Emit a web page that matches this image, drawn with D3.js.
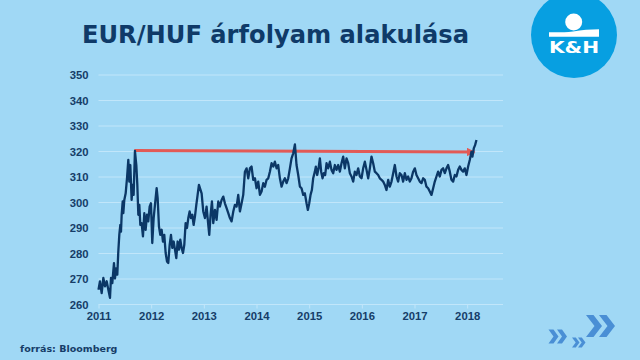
<!DOCTYPE html>
<html>
<head>
    <meta charset="utf-8" />
    <title>EUR/HUF árfolyam alakulása</title>
    <script src="https://d3js.org/d3.v7.min.js"></script>
    <style>
        html, body {
            margin: 0;
            padding: 0;
            background-color: #a0d8f5;
        }
        svg {
            display: block;
            font-family: "DejaVu Sans", Verdana, sans-serif;
        }
        .grid line {
            stroke: #c1e6fa;
            stroke-width: 1;
        }
        .axis text {
            fill: #163d68;
            font-weight: bold;
            font-size: 11.3px;
        }
        .axis path {
            display: none;
        }
        .axis--x .tick line {
            stroke: #c1e6fa;
        }
        .axis--y .tick line {
            display: none;
        }
    </style>
</head>
<body>
<svg id="chart" width="640" height="360"></svg>
<script>

// decimal years and EUR/HUF rates
var years = [
    2011.000, 2011.028, 2011.060, 2011.092, 2011.123, 2011.155, 2011.187, 2011.218, 2011.237, 2011.262,
    2011.294, 2011.313, 2011.332, 2011.357, 2011.376, 2011.395, 2011.414, 2011.427, 2011.440, 2011.459,
    2011.471, 2011.490, 2011.516, 2011.541, 2011.566, 2011.585, 2011.604, 2011.629, 2011.648, 2011.667,
    2011.692, 2011.718, 2011.737, 2011.756, 2011.775, 2011.794, 2011.819, 2011.844, 2011.870, 2011.895,
    2011.920, 2011.945, 2011.971, 2011.996, 2012.021, 2012.047, 2012.072, 2012.104, 2012.123, 2012.148,
    2012.173, 2012.199, 2012.224, 2012.249, 2012.275, 2012.300, 2012.325, 2012.351, 2012.376, 2012.401,
    2012.427, 2012.452, 2012.477, 2012.502, 2012.528, 2012.553, 2012.578, 2012.604, 2012.629, 2012.654,
    2012.680, 2012.705, 2012.730, 2012.755, 2012.781, 2012.806, 2012.831, 2012.857, 2012.882, 2012.907,
    2012.958, 2012.989, 2013.021, 2013.052, 2013.084, 2013.103, 2013.128, 2013.154, 2013.179, 2013.211,
    2013.242, 2013.274, 2013.305, 2013.337, 2013.369, 2013.400, 2013.432, 2013.464, 2013.495, 2013.527,
    2013.559, 2013.590, 2013.622, 2013.653, 2013.685, 2013.717, 2013.748, 2013.780, 2013.812, 2013.843,
    2013.875, 2013.906, 2013.938, 2013.970, 2014.001, 2014.033, 2014.065, 2014.096, 2014.128, 2014.159,
    2014.191, 2014.223, 2014.254, 2014.286, 2014.318, 2014.349, 2014.381, 2014.412, 2014.444, 2014.476,
    2014.507, 2014.539, 2014.571, 2014.602, 2014.634, 2014.665, 2014.697, 2014.729, 2014.760, 2014.792,
    2014.824, 2014.855, 2014.887, 2014.918, 2014.950, 2014.975, 2015.001, 2015.026, 2015.051, 2015.076,
    2015.108, 2015.127, 2015.152, 2015.178, 2015.203, 2015.228, 2015.254, 2015.279, 2015.304, 2015.330,
    2015.361, 2015.393, 2015.424, 2015.456, 2015.488, 2015.519, 2015.551, 2015.583, 2015.614, 2015.646,
    2015.677, 2015.709, 2015.741, 2015.772, 2015.804, 2015.836, 2015.867, 2015.899, 2015.930, 2015.962,
    2015.994, 2016.025, 2016.057, 2016.089, 2016.120, 2016.152, 2016.183, 2016.215, 2016.247, 2016.278,
    2016.310, 2016.341, 2016.373, 2016.405, 2016.436, 2016.468, 2016.500, 2016.531, 2016.563, 2016.595,
    2016.626, 2016.658, 2016.689, 2016.721, 2016.753, 2016.784, 2016.816, 2016.848, 2016.879, 2016.911,
    2016.942, 2016.974, 2017.006, 2017.037, 2017.069, 2017.100, 2017.132, 2017.164, 2017.195, 2017.227,
    2017.259, 2017.290, 2017.322, 2017.354, 2017.385, 2017.417, 2017.448, 2017.480, 2017.512, 2017.543,
    2017.575, 2017.607, 2017.638, 2017.670, 2017.701, 2017.733, 2017.765, 2017.796, 2017.828, 2017.860,
    2017.891, 2017.923, 2017.954, 2017.986, 2018.018, 2018.049, 2018.081, 2018.100, 2018.125, 2018.150,
    2018.176
];
var rates = [
    265.6, 268.9, 264.3, 270.2, 266.9, 268.9, 265.6, 262.4, 270.2, 268.2,
    276.0, 270.0, 274.0, 271.5, 280.6, 287.1, 291.0, 288.4, 295.0, 300.2,
    295.6, 300.8, 303.4, 309.3, 316.5, 308.0, 314.5, 300.8, 306.7, 302.8,
    320.0, 314.5, 306.7, 295.0, 298.9, 291.0, 291.7, 286.5, 295.6, 289.1,
    295.0, 292.4, 298.2, 299.5, 283.9, 293.7, 298.9, 305.4, 301.5, 290.4,
    287.1, 289.1, 284.5, 287.1, 280.0, 276.7, 276.1, 283.2, 287.1, 282.0,
    284.5, 281.3, 278.0, 284.5, 281.3, 285.2, 282.0, 280.0, 283.2, 291.7,
    289.8, 293.7, 296.3, 293.7, 295.0, 291.0, 294.3, 298.9, 302.8, 306.7,
    303.4, 296.3, 293.7, 298.2, 291.0, 287.1, 295.0, 300.2, 291.7, 296.9,
    293.0, 300.2, 298.2, 300.8, 302.1, 299.5, 297.6, 295.6, 293.7, 292.4,
    296.3, 298.9, 298.2, 302.8, 296.3, 299.5, 302.8, 311.9, 313.2, 309.3,
    313.2, 313.9, 308.7, 309.3, 305.4, 308.0, 302.8, 304.1, 307.4, 306.0,
    308.7, 309.3, 311.9, 315.2, 313.9, 315.8, 313.2, 314.5, 309.3, 306.0,
    308.0, 309.3, 307.4, 309.3, 313.2, 317.1, 319.1, 322.6, 314.5, 310.6,
    306.0, 305.4, 302.8, 303.4, 299.5, 296.9, 299.5, 302.8, 304.7, 309.3,
    311.9, 313.9, 310.6, 313.2, 317.1, 311.9, 309.3, 311.3, 310.6, 315.2,
    313.2, 315.8, 312.6, 311.3, 314.5, 312.6, 314.5, 311.9, 315.2, 317.8,
    313.2, 317.1, 315.2, 311.3, 310.0, 308.0, 311.9, 310.6, 313.2, 310.0,
    309.3, 313.2, 315.8, 312.6, 309.3, 313.2, 317.8, 315.2, 311.9, 311.3,
    310.6, 309.3, 308.7, 308.0, 306.7, 304.7, 308.7, 306.0, 308.0, 311.3,
    314.5, 310.0, 308.0, 311.3, 310.6, 308.0, 311.3, 308.7, 310.0, 308.0,
    309.3, 311.9, 313.2, 310.6, 309.3, 308.0, 307.4, 309.3, 308.7, 306.0,
    305.4, 304.1, 302.8, 305.4, 308.0, 310.0, 311.9, 310.0, 312.6, 313.2,
    311.3, 313.2, 314.5, 311.9, 308.7, 308.0, 310.6, 310.0, 312.6, 313.9,
    312.6, 311.9, 313.2, 310.6, 313.9, 316.5, 319.7, 317.8, 321.0, 322.3,
    324.3
];

// red arrow: from the 2011 peak to the latest value
var arrowYears = [2011.68, 2018.14];
var arrowRates = [320.2, 319.6];

var xTicks = [2011, 2012, 2013, 2014, 2015, 2016, 2017, 2018];
var yTicks = [260, 270, 280, 290, 300, 310, 320, 330, 340, 350];

var svg = d3.select("#chart");

var x = d3.scaleLinear().domain([2011, 2018.68]).range([98.5, 503]),
    y = d3.scaleLinear().domain([260, 350]).range([304, 74.5]);

// horizontal gridlines
svg.append("g")
    .attr("class", "grid")
    .selectAll("line")
    .data(yTicks)
    .enter().append("line")
    .attr("x1", x.range()[0])
    .attr("x2", x.range()[1])
    .attr("y1", function(d) { return y(d) + 0.5; })
    .attr("y2", function(d) { return y(d) + 0.5; });

svg.append("g")
    .attr("class", "axis axis--y")
    .attr("transform", "translate(" + (x.range()[0] - 10) + ",0)")
    .call(d3.axisLeft(y).tickValues(yTicks).tickSize(0).tickPadding(0))
    .selectAll("text")
    .attr("dy", "0.36em");

svg.append("g")
    .attr("class", "axis axis--x")
    .attr("transform", "translate(0," + (y(260) + 0.5) + ")")
    .call(d3.axisBottom(x).tickValues(xTicks).tickFormat(d3.format("d")).tickSize(4).tickPadding(3));

// arrow marker
svg.append("defs").append("marker")
    .attr("id", "arrowhead")
    .attr("viewBox", "0 0 10 10")
    .attr("refX", 9)
    .attr("refY", 5)
    .attr("markerWidth", 3.2)
    .attr("markerHeight", 2.8)
    .attr("orient", "auto")
    .append("path")
    .attr("d", "M0,0 L10,5 L0,10 Z")
    .attr("fill", "#e25a56");

var arrowData = arrowYears.map(function(d, i) { return [d, arrowRates[i]]; });

svg.append("path")
    .datum(arrowData)
    .attr("fill", "none")
    .attr("stroke", "#e25a56")
    .attr("stroke-width", 3)
    .attr("marker-end", "url(#arrowhead)")
    .attr("d", d3.line()
        .x(function(d) { return x(d[0]); })
        .y(function(d) { return y(d[1]); }));

var series = years.map(function(d, i) { return {year: d, rate: rates[i]}; });

svg.append("path")
    .datum(series)
    .attr("fill", "none")
    .attr("stroke", "#0b3766")
    .attr("stroke-width", 2.3)
    .attr("stroke-linejoin", "round")
    .attr("d", d3.line()
        .x(function(d) { return x(d.year); })
        .y(function(d) { return y(d.rate); }));

// title
svg.append("text")
    .attr("x", 82)
    .attr("y", 43)
    .attr("textLength", 387)
    .attr("lengthAdjust", "spacingAndGlyphs")
    .style("font-size", "24.5px")
    .style("font-weight", "bold")
    .style("fill", "#0f3a68")
    .text("EUR/HUF árfolyam alakulása");

// source
svg.append("text")
    .attr("x", 20)
    .attr("y", 352)
    .style("font-size", "9.5px")
    .style("font-weight", "bold")
    .style("fill", "#163d68")
    .text("forrás: Bloomberg");

// K&H logo
var logo = svg.append("g");
logo.append("circle")
    .attr("cx", 574)
    .attr("cy", 35)
    .attr("r", 43)
    .attr("fill", "#079fe1");
logo.append("circle")
    .attr("cx", 573.7)
    .attr("cy", 22)
    .attr("r", 8.5)
    .attr("fill", "white");
logo.append("path")
    .attr("d", "M549,36.7 L549,32.3 C558,32.3 565,32.5 573,31.4 C582,30 590,29.4 599,29.3 L599,36.7 Z")
    .attr("fill", "white");
logo.append("text")
    .attr("x", 549)
    .attr("y", 53.3)
    .attr("textLength", 50)
    .attr("lengthAdjust", "spacingAndGlyphs")
    .style("font-size", "16px")
    .style("font-weight", "bold")
    .style("fill", "white")
    .text("K&H");

// decorative chevrons bottom right
function chevron(x0, y0, w, h, t) {
    var ym = y0 + h / 2;
    return "M" + x0 + "," + y0 + " L" + (x0 + t) + "," + y0 + " L" + (x0 + w) + "," + ym +
        " L" + (x0 + t) + "," + (y0 + h) + " L" + x0 + "," + (y0 + h) + " L" + (x0 + w - t) + "," + ym + " Z";
}
var chev = svg.append("g").attr("fill", "#4a8fd5");
chev.append("path").attr("d", chevron(548.5, 329.5, 10, 14, 5));
chev.append("path").attr("d", chevron(557, 329.5, 10, 14, 5));
chev.append("path").attr("d", chevron(572, 337.5, 7.5, 10, 3.8));
chev.append("path").attr("d", chevron(578, 337.5, 7.5, 10, 3.8));
chev.append("path").attr("d", chevron(586, 315, 16, 22, 7.5));
chev.append("path").attr("d", chevron(599, 315, 16, 22, 7.5));

</script>
</body>
</html>
